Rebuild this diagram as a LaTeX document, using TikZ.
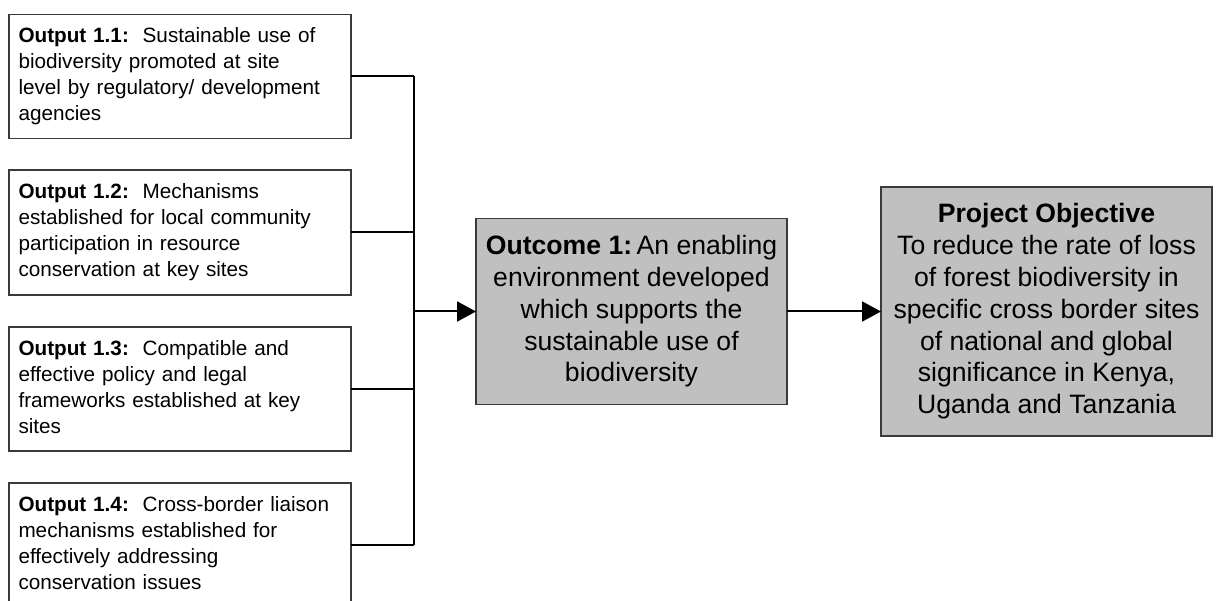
\documentclass[tikz,border=0pt]{standalone}
\usepackage{fontspec}
\setmainfont{Liberation Sans}
\usetikzlibrary{arrows.meta}
\definecolor{boxgray}{HTML}{C0C0C0}
\definecolor{edgegray}{HTML}{3A3A3A}
\tikzset{
  outbox/.style={draw=edgegray, line width=1.3pt, fill=white, minimum width=342pt, minimum height=124pt,
    inner sep=0pt, outer sep=0pt},
  outtext/.style={anchor=north west, text width=324pt, align=left, inner sep=0pt, outer sep=0pt,
    font=\fontsize{20.7pt}{26pt}\selectfont},
  graybox/.style={draw=edgegray, line width=1.3pt, fill=boxgray, inner sep=0pt, outer sep=0pt,
    align=center, font=\fontsize{26.6pt}{31.8pt}\selectfont},
  conn/.style={line width=2pt, black},
  arr/.style={conn, -{Triangle[length=19pt,width=20pt]}}
}
\newcommand{\firstline}{\rule{0pt}{20pt}}
\begin{document}
\begin{tikzpicture}[x=1pt,y=-1pt]
\useasboundingbox (0,0) rectangle (1217,601);
\clip (0,0) rectangle (1217,601);
\node[outbox] (o1) at (180,76.5) {};
\node[outbox, minimum height=125pt] (o2) at (180,232.5) {};
\node[outbox] (o3) at (180,389) {};
\node[outbox] (o4) at (180,545) {};
\node[outtext] (o1t) at ([xshift=9.5pt,yshift=-8.5pt]o1.north west) {\firstline\textbf{Output 1.1:}\ \ Sustainable use of\\biodiversity promoted at site\\level by regulatory/ development\\agencies};
\node[outtext] (o2t) at ([xshift=9.5pt,yshift=-8.5pt]o2.north west) {\firstline\textbf{Output 1.2:}\ \ Mechanisms\\established for local community\\participation in resource\\conservation at key sites};
\node[outtext] (o3t) at ([xshift=9.5pt,yshift=-8.5pt]o3.north west) {\firstline\textbf{Output 1.3:}\ \ Compatible and\\effective policy and legal\\frameworks established at key\\sites};
\node[outtext] (o4t) at ([xshift=9.5pt,yshift=-8.5pt]o4.north west) {\firstline\textbf{Output 1.4:}\ \ Cross-border liaison\\mechanisms established for\\effectively addressing\\conservation issues};
\node[graybox, minimum width=311pt, minimum height=186pt] (oc) at (631.5,311.5) {\textbf{Outcome 1:}\,An enabling\\environment developed\\which supports the\\sustainable use of\\biodiversity};
\node[graybox, minimum width=331pt, minimum height=249pt] (po) at (1046.5,311.5) {\textbf{Project Objective}\\To reduce the rate of loss\\of forest biodiversity in\\specific cross border sites\\of national and global\\significance in Kenya,\\Uganda and Tanzania};
\coordinate (j) at (414,311.5);
\draw[conn] (o1.east) -- (o1.east -| j);
\draw[conn] (o2.east) -- (o2.east -| j);
\draw[conn] (o3.east) -- (o3.east -| j);
\draw[conn] (o4.east) -- (o4.east -| j);
\draw[conn] (o1.east -| j) -- (o4.east -| j);
\draw[arr] (j) -- (oc.west);
\draw[arr] (oc.east) -- (po.west);
\end{tikzpicture}
\end{document}
